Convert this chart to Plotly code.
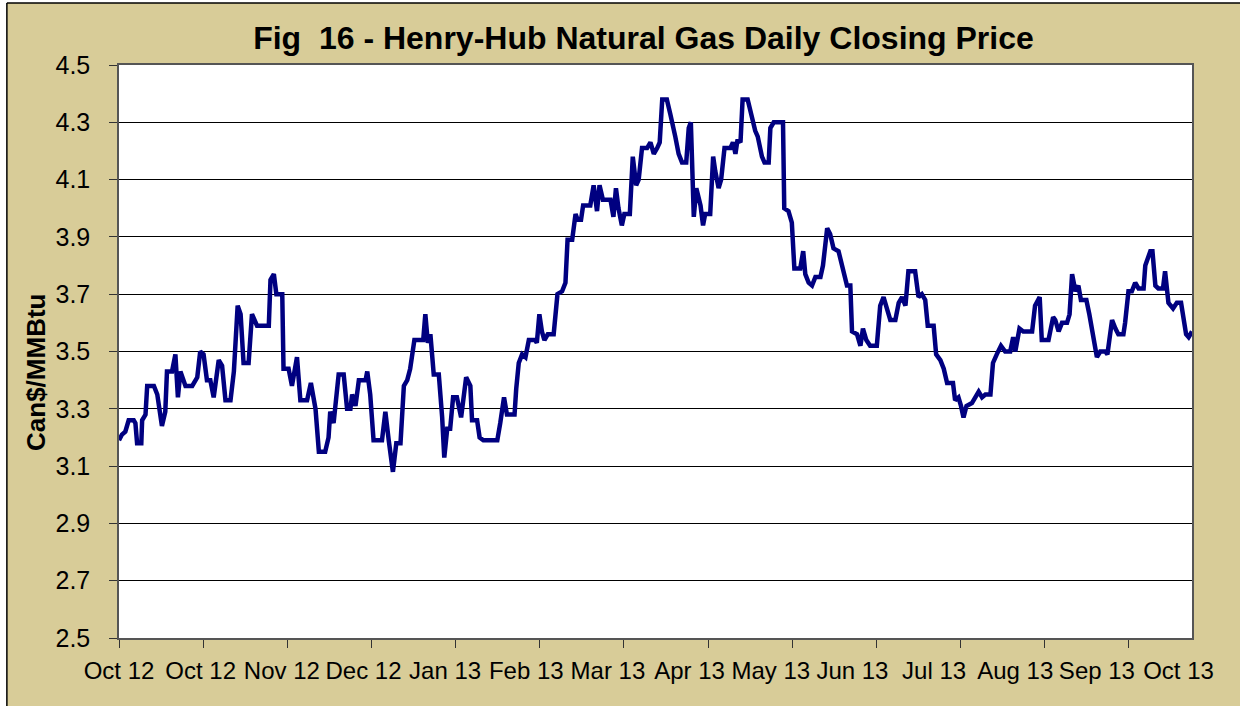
import plotly.graph_objects as go

# ---- data (trading-day index vs Can$/MMBtu) ----
trading_day = [
    0.0, 0.7, 1.5, 2.3, 3.5, 3.9, 4.3, 5.3, 5.5, 6.3, 6.7, 8.3, 9.1, 10.2, 11.0, 11.4, 12.6, 13.4, 14.0, 14.6,
    15.8, 17.4, 18.6, 19.3, 20.1, 20.9, 21.7, 22.5, 23.7, 24.5, 25.3, 26.5, 27.3, 28.2, 28.9, 29.6, 30.8, 31.6,
    32.8, 35.6, 36.0, 36.8, 37.4, 38.8, 39.1, 40.3, 41.1, 42.3, 43.1, 44.7, 45.6, 46.7, 47.5, 49.0, 49.8, 50.2,
    51.0, 52.2, 53.4, 54.2, 55.0, 55.4, 56.2, 57.0, 58.6, 59.0, 59.7, 60.5, 62.5, 63.3, 64.1, 65.1, 65.9, 66.9,
    67.7, 68.5, 69.2, 70.2, 72.3, 72.8, 73.4, 74.0, 74.8, 76.0, 76.8, 77.3, 78.0, 78.7, 79.4, 80.3, 81.3, 82.5,
    83.5, 83.9, 85.1, 85.7, 86.6, 89.9, 90.6, 91.5, 92.2, 94.0, 94.4, 95.0, 95.8, 96.6, 97.4, 98.9, 99.3, 99.9,
    100.5, 101.1, 101.9, 103.3, 104.2, 105.3, 106.1, 106.6, 107.7, 108.5, 109.0, 109.8, 110.3, 112.0, 112.8,
    113.6, 114.2, 115.0, 116.8, 117.5, 118.1, 118.7, 119.5, 120.1, 121.4, 122.1, 122.9, 123.5, 124.3, 125.5,
    126.3, 127.1, 127.9, 128.5, 129.1, 130.2, 131.0, 131.7, 132.2, 133.0, 133.8, 134.8, 135.4, 135.9, 136.6,
    137.2, 138.2, 138.8, 139.3, 140.5, 141.2, 141.7, 142.5, 143.1, 143.9, 145.3, 145.9, 146.5, 147.0, 147.7,
    148.2, 149.4, 150.4, 151.2, 151.8, 152.8, 153.4, 154.4, 154.8, 155.6, 157.8, 158.1, 159.1, 159.9, 160.5,
    161.9, 162.6, 163.1, 163.9, 164.7, 165.5, 166.7, 167.3, 168.3, 169.0, 169.8, 171.0, 171.8, 173.0, 173.8,
    174.2, 175.4, 176.2, 176.8, 177.6, 178.5, 180.1, 180.9, 181.7, 182.5, 183.3, 184.5, 185.3, 186.1, 186.9,
    187.6, 189.2, 190.0, 190.8, 191.6, 192.2, 193.6, 194.2, 195.2, 196.0, 196.8, 198.2, 198.7, 199.5, 200.1,
    200.7, 201.4, 202.7, 203.5, 204.3, 205.1, 205.9, 207.1, 207.7, 208.6, 209.6, 210.6, 211.8, 212.5, 213.0,
    214.0, 214.9, 217.0, 217.7, 218.8, 219.3, 220.9, 222.0, 222.5, 223.3, 224.1, 225.3, 225.9, 226.5, 227.3,
    228.0, 228.6, 229.9, 230.6, 231.5, 232.4, 233.2, 234.4, 234.9, 236.0, 236.8, 237.5, 238.7, 239.1, 239.9,
    240.7, 241.5, 242.3, 243.5, 243.9, 245.1, 245.6, 246.3, 247.0, 248.1, 248.6, 249.4, 250.5, 251.4, 252.4,
    253.6, 254.2, 255.0,
]
price = [
    3.19, 3.21, 3.22, 3.26, 3.26, 3.25, 3.18, 3.18, 3.26, 3.28, 3.38, 3.38, 3.35, 3.24, 3.29, 3.43, 3.43, 3.49, 3.34, 3.43,
    3.38, 3.38, 3.41, 3.50, 3.49, 3.40, 3.40, 3.34, 3.47, 3.45, 3.33, 3.33, 3.43, 3.66, 3.63, 3.46, 3.46, 3.63,
    3.59, 3.59, 3.75, 3.77, 3.70, 3.70, 3.44, 3.44, 3.38, 3.48, 3.33, 3.33, 3.39, 3.30, 3.15, 3.15, 3.20, 3.29,
    3.25, 3.42, 3.42, 3.30, 3.30, 3.35, 3.31, 3.40, 3.40, 3.43, 3.35, 3.19, 3.19, 3.29, 3.19, 3.08, 3.18, 3.18,
    3.38, 3.40, 3.44, 3.54, 3.54, 3.63, 3.53, 3.56, 3.42, 3.42, 3.27, 3.13, 3.23, 3.23, 3.34, 3.34, 3.27, 3.41,
    3.38, 3.26, 3.26, 3.20, 3.19, 3.19, 3.25, 3.34, 3.28, 3.28, 3.37, 3.46, 3.49, 3.48, 3.54, 3.54, 3.53, 3.63,
    3.57, 3.54, 3.56, 3.56, 3.70, 3.71, 3.74, 3.89, 3.89, 3.98, 3.96, 3.96, 4.01, 4.01, 4.08,
    3.99, 4.08, 4.03, 4.03, 3.97, 4.07, 4.00, 3.94, 3.98, 3.98, 4.18, 4.08, 4.10, 4.21, 4.21,
    4.23, 4.19, 4.21, 4.23, 4.38, 4.38, 4.33, 4.27, 4.25, 4.19, 4.16, 4.16, 4.28, 4.30, 3.97,
    4.07, 4.01, 3.94, 3.98, 3.98, 4.18, 4.13, 4.07, 4.10, 4.21, 4.21, 4.23, 4.19, 4.24, 4.23,
    4.38, 4.38, 4.31, 4.27, 4.25, 4.18, 4.16, 4.16, 4.28, 4.30, 4.30, 4.00, 3.99, 3.95, 3.79,
    3.79, 3.85, 3.77, 3.74, 3.73, 3.76, 3.76, 3.80, 3.93, 3.91, 3.86, 3.85, 3.80, 3.73, 3.73,
    3.57, 3.56, 3.52, 3.58, 3.54, 3.52, 3.52, 3.66, 3.69, 3.65, 3.61, 3.61, 3.67, 3.69, 3.66,
    3.78, 3.78, 3.69, 3.70, 3.68, 3.59, 3.59, 3.49, 3.47, 3.44, 3.39, 3.39, 3.33, 3.34, 3.31,
    3.27, 3.31, 3.32, 3.34, 3.36, 3.34, 3.35, 3.35, 3.46, 3.49, 3.52, 3.50, 3.50, 3.55, 3.50,
    3.58, 3.57, 3.57, 3.66, 3.69, 3.54, 3.54, 3.62, 3.61, 3.57, 3.60, 3.60, 3.63, 3.77, 3.71,
    3.73, 3.68, 3.68, 3.63, 3.56, 3.48, 3.50, 3.50, 3.49, 3.61, 3.58, 3.56, 3.56, 3.60, 3.71,
    3.71, 3.74, 3.72, 3.72, 3.80, 3.85, 3.85, 3.73, 3.72, 3.72, 3.78, 3.67, 3.65, 3.67, 3.67,
    3.56, 3.55, 3.57,
]

month_labels = ["Oct 12", "Oct 12", "Nov 12", "Dec 12", "Jan 13", "Feb 13", "Mar 13",
                "Apr 13", "May 13", "Jun 13", "Jul 13", "Aug 13", "Sep 13", "Oct 13"]
label_days = [0, 19.4, 38.7, 58.1, 77.5, 96.8, 116.2, 135.6, 154.9, 174.3, 193.7, 213.0, 232.4, 251.8]
tick_mark_days = [0, 20, 40, 60, 80, 100, 120, 140, 160, 180, 200, 220, 240]
y_ticks = [2.5, 2.7, 2.9, 3.1, 3.3, 3.5, 3.7, 3.9, 4.1, 4.3, 4.5]

TAN = "#D8CC98"
FONT = "Liberation Sans, Arial, sans-serif"

fig = go.Figure()
fig.add_trace(go.Scatter(
    x=trading_day, y=price, mode="lines",
    line=dict(color="#000080", width=4.5),
    hoverinfo="skip", showlegend=False,
))

fig.update_layout(
    width=1240, height=706,
    margin=dict(l=119, r=48, t=65, b=68),
    paper_bgcolor=TAN,
    plot_bgcolor="white",
    font=dict(family=FONT, color="black"),
    title=dict(
        text="<b>Fig  16 - Henry-Hub Natural Gas Daily Closing Price</b>",
        font=dict(family=FONT, size=32, color="black"),
        xref="paper", x=0.4888, xanchor="center",
        yref="container", y=0.947, yanchor="middle",
    ),
    xaxis=dict(
        range=[0, 255],
        tickmode="array", tickvals=label_days, ticktext=month_labels,
        ticks="", showgrid=False, zeroline=False,
        tickfont=dict(family=FONT, size=24, color="black"),
        ticklabelstandoff=10,
        showline=True, linecolor="#555555", linewidth=1.5, mirror=True,
        minor=dict(tickmode="array", tickvals=tick_mark_days, ticks="outside",
                   ticklen=8, tickwidth=1, tickcolor="#333333", showgrid=False),
    ),
    yaxis=dict(
        range=[2.5, 4.5],
        tickmode="array", tickvals=y_ticks, tickformat=".1f",
        ticks="outside", ticklen=8, tickwidth=1, tickcolor="#333333",
        showgrid=True, gridcolor="black", gridwidth=1, zeroline=False,
        tickfont=dict(family=FONT, size=25, color="black"),
        ticklabelstandoff=14,
        showline=True, linecolor="#555555", linewidth=1.5, mirror=True,
    ),
    annotations=[dict(
        text="<b>Can$/MMBtu</b>", textangle=-90,
        xref="paper", yref="paper", x=-0.0774, y=0.4642,
        xanchor="center", yanchor="middle", showarrow=False,
        font=dict(family=FONT, size=26, color="black"),
    )],
    shapes=[
        dict(type="rect", xref="paper", yref="paper", x0=-0.2, x1=-0.1045, y0=-0.2, y1=1.25,
             fillcolor="white", line=dict(width=0), layer="above"),
        dict(type="rect", xref="paper", yref="paper", x0=-0.2, x1=1.2, y0=1.1082, y1=1.25,
             fillcolor="white", line=dict(width=0), layer="above"),
        dict(type="line", xref="paper", yref="paper", x0=-0.1045, x1=1.2, y0=1.1082, y1=1.1082,
             line=dict(color="black", width=1.5), layer="above"),
        dict(type="line", xref="paper", yref="paper", x0=-0.1045, x1=-0.1045, y0=-0.2, y1=1.1082,
             line=dict(color="black", width=1.5), layer="above"),
    ],
)

fig.write_html(
    "out.html",
    config={"displayModeBar": False},
    post_script="document.body.style.margin='0';document.body.style.overflow='hidden';",
)
